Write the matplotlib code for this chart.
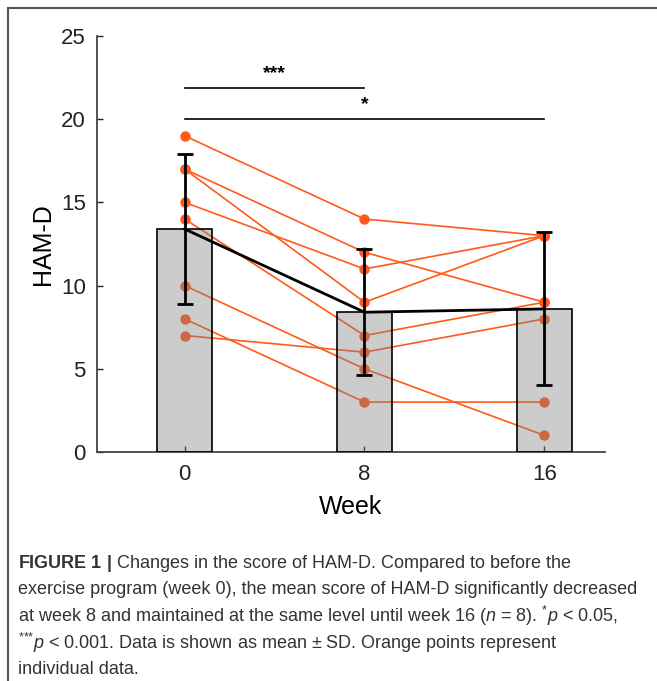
import matplotlib
matplotlib.use("Agg")
import matplotlib.pyplot as plt
from matplotlib.lines import Line2D

# HAM-D scores, one entry per subject (same order in every week)
weeks = [0, 8, 16]
week_labels = ["0", "8", "16"]
week0_scores = [19, 17, 17, 15, 14, 10, 8, 7]
week8_scores = [14, 12, 9, 11, 7, 5, 3, 6]
week16_scores = [13, 9, 13, 13, 9, 1, 3, 8]
mean_scores = [13.4, 8.4, 8.6]
sd_scores = [4.5, 3.8, 4.6]

# significance brackets: (start week, end week, height, label)
sig_pairs = [(0, 8, 21.9, "***"), (0, 16, 20.0, "*")]

caption_lines = [
    r"$\mathbf{FIGURE\ 1\ |}$ Changes in the score of HAM-D. Compared to before the",
    "exercise program (week 0), the mean score of HAM-D significantly decreased",
    r"at week 8 and maintained at the same level until week 16 ($n$ = 8). $^{{*}}$$p$ < 0.05,",
    r"$^{{*}{*}{*}}$$p$ < 0.001. Data is shown as mean $\pm$ SD. Orange points represent",
    "individual data.",
]

plt.rcParams["font.family"] = ["Liberation Sans", "DejaVu Sans"]
plt.rcParams["mathtext.fontset"] = "custom"
plt.rcParams["mathtext.rm"] = "Liberation Sans"
plt.rcParams["mathtext.it"] = "Liberation Sans:italic"
plt.rcParams["mathtext.bf"] = "Liberation Sans:bold"

W, H = 657, 681
fig = plt.figure(figsize=(W / 100, H / 100), dpi=100)
ax = fig.add_axes([97 / W, 1 - 452 / H, (605 - 97) / W, (452 - 36) / H])

orange = "#FF5A1A"
for subj in zip(week0_scores, week8_scores, week16_scores):
    ax.plot(weeks, subj, color=orange, lw=1.2, marker="o", ms=7.5,
            mec="none", zorder=2)

# translucent grey bars over the individual data
ax.bar(weeks, mean_scores, width=2.45, color=(0.5, 0.5, 0.5, 0.4),
       edgecolor="black", linewidth=1.2, zorder=3)
ax.plot(weeks, mean_scores, color="black", lw=2, zorder=4)
ax.errorbar(weeks, mean_scores, yerr=sd_scores, fmt="none", ecolor="black",
            elinewidth=2, capsize=6, capthick=2, zorder=5)

for x0, x1, y, lab in sig_pairs:
    ax.plot([x0, x1], [y, y], color="black", lw=1.2, clip_on=False)
    ax.text((x0 + x1) / 2, y + 0.35, lab, ha="center", va="bottom",
            fontsize=14, fontweight="bold")

ax.set_xlim(-3.9, 18.7)
ax.set_ylim(0, 25)
ax.set_xticks(weeks)
ax.set_xticklabels(week_labels)
ax.set_yticks([0, 5, 10, 15, 20, 25])
ax.tick_params(direction="in", length=4, labelsize=16, colors="#222222",
               width=1)
ax.tick_params(axis="x", pad=9)
ax.tick_params(axis="y", pad=8)
for s in ["top", "right"]:
    ax.spines[s].set_visible(False)
for s in ["left", "bottom"]:
    ax.spines[s].set_color("#444444")
    ax.spines[s].set_linewidth(1.3)
ax.set_ylabel("HAM-D", fontsize=18, labelpad=4)
ax.set_xlabel("Week", fontsize=18, labelpad=7)

# frame around the figure panel
fig.add_artist(Line2D([8 / W, 1], [1 - 8 / H, 1 - 8 / H], color="#555555",
                      lw=1.5, transform=fig.transFigure))
fig.add_artist(Line2D([8 / W, 8 / W], [0, 1 - 8 / H], color="#555555",
                      lw=1.5, transform=fig.transFigure))

for i, line in enumerate(caption_lines):
    fig.text(18 / W, 1 - (563 + 26.5 * i) / H, line, fontsize=13,
             color="#333333", ha="left", va="center")

fig.savefig("out.png", dpi=100)
